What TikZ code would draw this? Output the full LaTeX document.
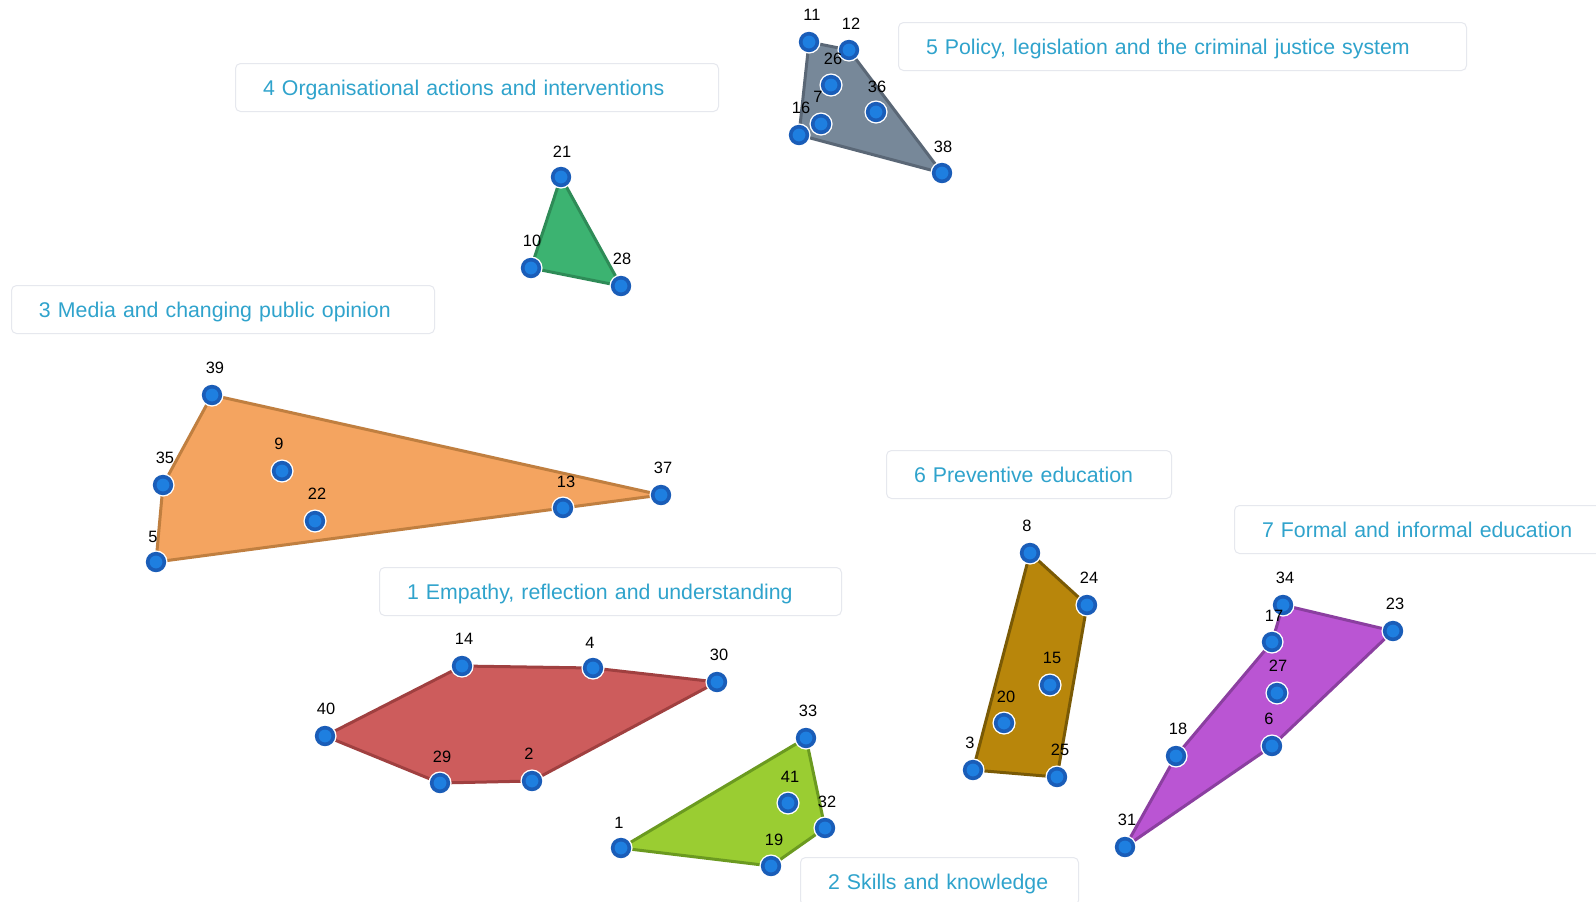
\documentclass[tikz,border=0pt]{standalone}
\usepackage{fontspec}
\setmainfont{Liberation Sans}
\definecolor{txtblue}{HTML}{2FA3CC}
\definecolor{boxline}{HTML}{E6E8EE}
\definecolor{ringblue}{HTML}{1A5DB8}
\definecolor{dotblue}{HTML}{1E7FE0}
\definecolor{greyF}{HTML}{778899}\definecolor{greyD}{HTML}{5A6776}
\definecolor{greenF}{HTML}{3CB371}\definecolor{greenD}{HTML}{2E8B57}
\definecolor{orangeF}{HTML}{F4A460}\definecolor{orangeD}{HTML}{C07F40}
\definecolor{redF}{HTML}{CD5C5C}\definecolor{redD}{HTML}{A04040}
\definecolor{limeF}{HTML}{9ACD32}\definecolor{limeD}{HTML}{6B9A20}
\definecolor{brownF}{HTML}{B8860B}\definecolor{brownD}{HTML}{7A5A05}
\definecolor{purpleF}{HTML}{BA55D3}\definecolor{purpleD}{HTML}{8B3FA0}
\begin{document}
\begin{tikzpicture}[x=0.5pt,y=-0.5pt,
  hull/.style={line width=1.5pt, line join=round},
  catbox/.style={draw=boxline, line width=0.5pt, rounded corners=2.5pt, fill=white,
    anchor=north west, minimum height=24pt, inner xsep=13.75pt, inner ysep=0pt,
    text width=#1, align=left, text depth=0pt, font=\fontsize{10.65pt}{12pt}\selectfont, text=txtblue},
  numlab/.style={font=\fontsize{8.2pt}{9pt}\selectfont, inner sep=0pt, text=black}]
\useasboundingbox (0,0) rectangle (1596,901);
\clip (0,0) rectangle (1596,901);
\fill[white] (0,0) rectangle (1596,901);
\foreach \n/\x/\y in {1/621/848,2/532/781,3/973/770,4/593/668,5/156/562,6/1272/746,
  7/821/124,8/1030/553,9/282/471,10/531/268,11/809/42,12/849/50,13/563/508,
  14/462/666,15/1050/685,16/799/135,17/1272/642,18/1176/756,19/771/866,
  20/1004/723,21/561/177,22/315/521,23/1393/631,24/1087/605,25/1057/777,
  26/831/85,27/1277/693,28/621/286,29/440/783,30/717/682,31/1125/847,
  32/825/828,33/806/738,34/1283/605,35/163/485,36/876/112,37/661/495,
  38/942/173,39/212/395,40/325/736,41/788/803}
  {\coordinate (p\n) at (\x,\y);}
% hulls
\filldraw[hull, fill=greyF, draw=greyD] (p11) -- (p12) -- (p38) -- (p16) -- cycle;
\filldraw[hull, fill=greenF, draw=greenD] (p21) -- (p28) -- (p10) -- cycle;
\filldraw[hull, fill=orangeF, draw=orangeD] (p39) -- (p37) -- (p13) -- (p5) -- (p35) -- cycle;
\filldraw[hull, fill=redF, draw=redD] (p40) -- (p14) -- (p4) -- (p30) -- (p2) -- (p29) -- cycle;
\filldraw[hull, fill=limeF, draw=limeD] (p1) -- (p33) -- (p32) -- (p19) -- cycle;
\filldraw[hull, fill=brownF, draw=brownD] (p8) -- (p24) -- (p25) -- (p3) -- cycle;
\filldraw[hull, fill=purpleF, draw=purpleD] (p31) -- (p18) -- (p17) -- (p34) -- (p23) -- (p6) -- cycle;
% markers
\foreach \n in {1,...,41}{
  \fill[white] (p\n) circle (5.8pt);
  \fill[ringblue] (p\n) circle (5.1pt);
  \fill[dotblue] (p\n) circle (3.2pt);
}
% number labels
\foreach \n/\x/\y in {1/619/823,2/529/754,3/970/743,4/590/643,5/153/537,6/1269/719,
  7/818/97,8/1027/526,9/279/444,10/532/241,11/812/15,12/851/24,13/566/482,
  14/464/639,15/1052/658,16/801/108,17/1274/616,18/1178/729,19/774/840,
  20/1006/697,21/562/152,22/317/494,23/1395/604,24/1089/578,25/1060/750,
  26/833/59,27/1278/666,28/622/259,29/442/757,30/719/655,31/1127/820,
  32/827/802,33/808/711,34/1285/578,35/165/458,36/877/87,37/663/468,
  38/943/147,39/215/368,40/326/709,41/790/777}
  {\node[numlab] (l\n) at (\x,\y) {\n};}
% category boxes
\node[catbox=256.5pt] (b5) at (898,22) {5 Policy, legislation and the criminal justice system};
\node[catbox=214pt] (b4) at (235,63) {4 Organisational actions and interventions};
\node[catbox=184pt] (b3) at (11,285) {3 Media and changing public opinion};
\node[catbox=115pt] (b6) at (886,450) {6 Preventive education};
\node[catbox=190pt] (b7) at (1234,505) {7 Formal and informal education};
\node[catbox=203.5pt] (b1) at (379,567) {1 Empathy, reflection and understanding};
\node[catbox=111.5pt] (b2) at (800,857) {2 Skills and knowledge};
\end{tikzpicture}
\end{document}
